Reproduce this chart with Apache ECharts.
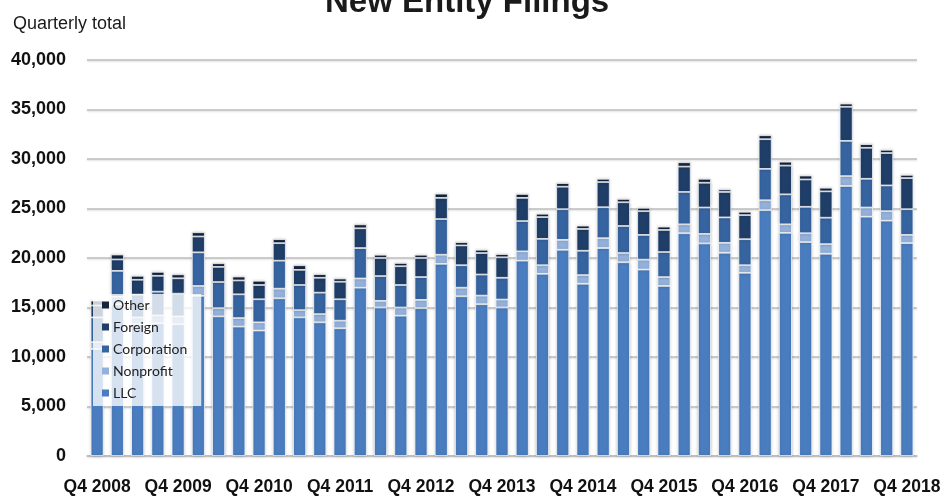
<!DOCTYPE html>
<html>
<head>
<meta charset="utf-8">
<title>New Entity Filings</title>
<script src="https://cdn.jsdelivr.net/npm/echarts@6/dist/echarts.min.js"></script>
<style>
  html, body { margin: 0; padding: 0; background: #fff; }
  #chart { width: 945px; height: 496px; }
</style>
</head>
<body>
<div id="chart"></div>
<script>
const quarters = [
  'Q4 2008', 'Q1 2009', 'Q2 2009', 'Q3 2009', 'Q4 2009',
  'Q1 2010', 'Q2 2010', 'Q3 2010', 'Q4 2010',
  'Q1 2011', 'Q2 2011', 'Q3 2011', 'Q4 2011',
  'Q1 2012', 'Q2 2012', 'Q3 2012', 'Q4 2012',
  'Q1 2013', 'Q2 2013', 'Q3 2013', 'Q4 2013',
  'Q1 2014', 'Q2 2014', 'Q3 2014', 'Q4 2014',
  'Q1 2015', 'Q2 2015', 'Q3 2015', 'Q4 2015',
  'Q1 2016', 'Q2 2016', 'Q3 2016', 'Q4 2016',
  'Q1 2017', 'Q2 2017', 'Q3 2017', 'Q4 2017',
  'Q1 2018', 'Q2 2018', 'Q3 2018', 'Q4 2018'
];

const llc = [
  10800, 15300, 13300, 13400, 13300, 16170, 14100, 13070, 12670, 15930,
  14000, 13500, 12900, 17000, 15000, 14170, 14930, 19400, 16130, 15330,
  15000, 19730, 18400, 20830, 17400, 21000, 19570, 18830, 17170, 22500,
  21470, 20530, 18500, 24830, 22530, 21600, 20430, 27270, 24170, 23770,
  21500
];
const nonprofit = [
  700, 800, 700, 800, 800, 1000, 830, 860, 830, 970,
  730, 830, 770, 930, 670, 830, 840, 930, 870, 870,
  800, 940, 870, 1000, 870, 1000, 930, 1000, 900, 900,
  960, 1000, 770, 1000, 870, 900, 970, 1000, 930, 960,
  830
];
const corporation = [
  2500, 2600, 2300, 2400, 2300, 3400, 2640, 2400, 2330, 2830,
  2540, 2170, 2160, 3070, 2500, 2270, 2300, 3600, 2270, 2130,
  2200, 3060, 2660, 3100, 2460, 3130, 2730, 2500, 2530, 3270,
  2670, 2570, 2630, 3170, 3030, 2670, 2670, 3560, 2900, 2600,
  2600
];
const foreign = [
  1200, 1150, 1500, 1600, 1550, 1600, 1530, 1400, 1440, 1770,
  1530, 1500, 1770, 2000, 1830, 1900, 1930, 2140, 2000, 2170,
  2070, 2340, 2200, 2270, 2200, 2540, 2400, 2400, 2230, 2560,
  2500, 2570, 2430, 3000, 2900, 2760, 2660, 3440, 3130, 3270,
  3140
];
const other = [
  500, 500, 400, 400, 400, 430, 370, 400, 430, 400,
  470, 370, 330, 400, 330, 330, 330, 430, 330, 330,
  330, 400, 340, 370, 340, 330, 340, 340, 340, 440,
  400, 260, 340, 400, 400, 400, 370, 330, 370, 330,
  330
];

const yTicks = [0, 5000, 10000, 15000, 20000, 25000, 30000, 35000, 40000];

const colors = {
  LLC: '#4a7dbf',
  Nonprofit: '#93b1da',
  Corporation: '#3664a0',
  Foreign: '#1f3e68',
  Other: '#14243d'
};

const sans = '"Liberation Sans", Arial, sans-serif';

function barSeries(name, data) {
  return {
    name: name,
    type: 'bar',
    stack: 'total',
    data: data,
    barWidth: 13,
    itemStyle: {
      color: colors[name],
      borderColor: 'rgba(255,255,255,0.9)',
      borderWidth: 0.8,
      shadowBlur: 3,
      shadowColor: 'rgba(0,0,0,0.22)'
    },
    emphasis: { disabled: true }
  };
}

const chart = echarts.init(document.getElementById('chart'));

const option = {
  animation: false,
  title: [
    {
      text: 'New Entity Filings',
      left: 320,
      top: -19,
      textStyle: {
        fontFamily: sans,
        fontWeight: 'bold',
        fontSize: 33,
        color: '#1a1a1a'
      }
    },
    {
      text: 'Quarterly total',
      left: 8,
      top: 10,
      textStyle: {
        fontFamily: sans,
        fontWeight: 'normal',
        fontSize: 18,
        color: '#1a1a1a'
      }
    }
  ],
  legend: {
    orient: 'vertical',
    left: 93,
    top: 294,
    padding: [4, 14, 6, 9],
    backgroundColor: 'rgba(255,255,255,0.78)',
    itemWidth: 7,
    itemHeight: 7,
    itemGap: 8,
    icon: 'rect',
    data: ['Other', 'Foreign', 'Corporation', 'Nonprofit', 'LLC'],
    itemStyle: { borderWidth: 0, shadowBlur: 0 },
    textStyle: {
      fontFamily: 'Lato, "Open Sans", sans-serif',
      fontSize: 14,
      lineHeight: 14,
      color: '#222',
      padding: [0, 0, 0, -1]
    }
  },
  grid: {
    left: 87,
    right: 28,
    top: 60,
    bottom: 36
  },
  xAxis: {
    type: 'category',
    data: quarters,
    axisTick: { show: false },
    axisLine: { lineStyle: { color: '#bcbcbc', width: 1.5 } },
    axisLabel: {
      interval: 3,
      margin: 22,
      fontFamily: sans,
      fontWeight: 'bold',
      fontSize: 17.5,
      color: '#111'
    }
  },
  yAxis: {
    type: 'value',
    min: yTicks[0],
    max: yTicks[yTicks.length - 1],
    interval: yTicks[1] - yTicks[0],
    axisLine: { show: false },
    axisTick: { show: false },
    splitLine: {
      lineStyle: {
        color: '#bdbdbd',
        width: 1.5,
        shadowBlur: 2,
        shadowColor: 'rgba(0,0,0,0.15)',
        shadowOffsetY: 1
      }
    },
    axisLabel: {
      margin: 21,
      fontFamily: sans,
      fontWeight: 'bold',
      fontSize: 18,
      color: '#111',
      formatter: (v) => v.toLocaleString('en-US')
    }
  },
  series: [
    barSeries('LLC', llc),
    barSeries('Nonprofit', nonprofit),
    barSeries('Corporation', corporation),
    barSeries('Foreign', foreign),
    barSeries('Other', other)
  ]
};

chart.setOption(option);
</script>
</body>
</html>
